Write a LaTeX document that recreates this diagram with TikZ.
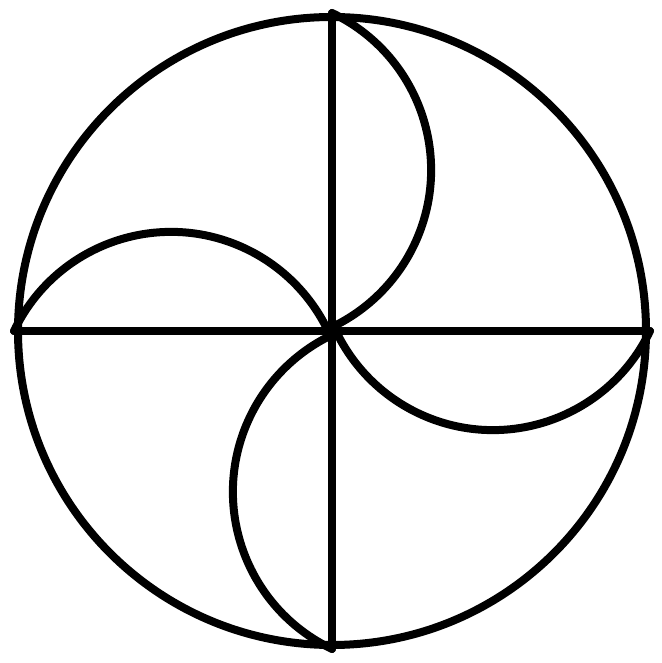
\documentclass[tikz,border=0pt]{standalone}
\begin{document}
\begin{tikzpicture}[x=1pt,y=1pt,
  ln/.style={line width=8pt,line cap=round,line join=round,draw=black}]
\useasboundingbox (0,0) rectangle (661,663);
\node[circle,ln,minimum size=628pt,inner sep=0pt] (c) at (332,332) {};
\coordinate (o) at (c.center);
\draw[ln] (c.north) -- (c.south);
\draw[ln] (c.west) -- (c.east);
\draw[ln] (c.north) arc[start angle=64.5,end angle=-64.5,radius=174];
\draw[ln] (c.west) arc[start angle=154.5,end angle=25.5,radius=174];
\draw[ln] (c.south) arc[start angle=244.5,end angle=115.5,radius=174];
\draw[ln] (c.east) arc[start angle=334.5,end angle=205.5,radius=174];
\end{tikzpicture}
\end{document}
